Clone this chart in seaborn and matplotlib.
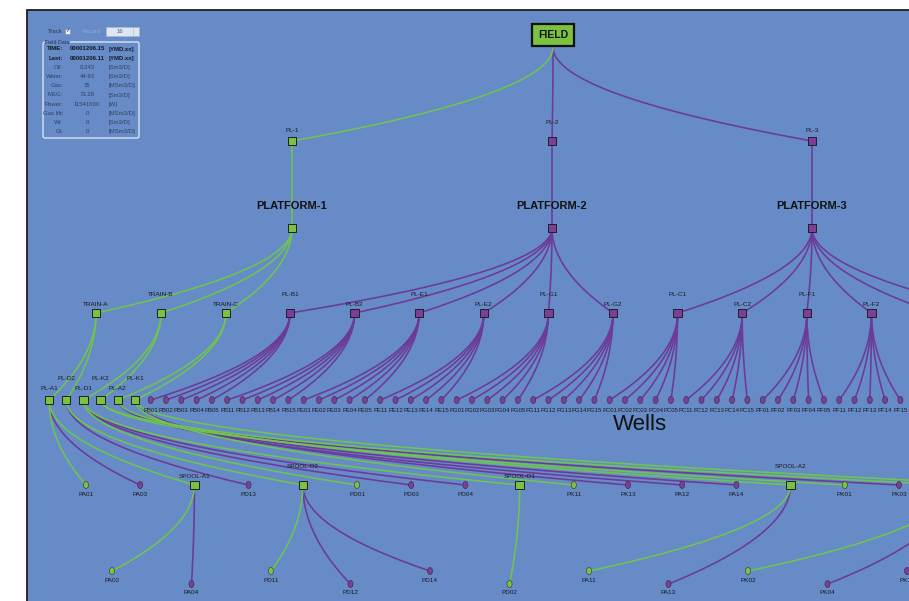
import warnings
import numpy as np
import pandas as pd
import matplotlib
matplotlib.use('Agg')
import matplotlib.pyplot as plt
import seaborn as sns
from matplotlib.patches import Rectangle, FancyBboxPatch
warnings.filterwarnings('ignore')

# ---- network content ----
FIELD = 'FIELD'
RISERS = ['PL-1', 'PL-2', 'PL-3']
RISER_PHASE = ['g', 'p', 'p']
PLATFORMS = ['PLATFORM-1', 'PLATFORM-2', 'PLATFORM-3']
TRAINS = ['TRAIN-A', 'TRAIN-B', 'TRAIN-C']

FLOWLINES = ['PL-B1', 'PL-B2', 'PL-E1', 'PL-E2', 'PL-G1', 'PL-G2',
             'PL-C1', 'PL-C2', 'PL-F1', 'PL-F2', 'PL-H1', 'PL-H2']
FLOWLINE_PLATFORM = ['PLATFORM-2'] * 6 + ['PLATFORM-3'] * 6

WELL_GROUPS = ['B', 'E', 'G', 'C', 'F']
WELL_SLOTS = ['01', '02', '03', '04', '05', '11', '12', '13', '14', '15']
WELLS = [f'P{g}{s}' for g in WELL_GROUPS for s in WELL_SLOTS]
WELL_FLOWLINE = [f'PL-{g}{1 if s[0] == "0" else 2}' for g in WELL_GROUPS for s in WELL_SLOTS]

MANIFOLDS = ['PL-A1', 'PL-D2', 'PL-D1', 'PL-K2', 'PL-A2', 'PL-K1']
MANIFOLD_TRAIN = ['TRAIN-A', 'TRAIN-A', 'TRAIN-B', 'TRAIN-B', 'TRAIN-C', 'TRAIN-C']

SUBSEA = ['PA01', 'PA03', 'SPOOL-A1', 'PD13', 'SPOOL-D2', 'PD01', 'PD03', 'PD04',
          'SPOOL-D1', 'PK11', 'PK13', 'PA12', 'PA14', 'SPOOL-A2', 'PK01', 'PK03',
          'SPOOL-K2', 'SPOOL-K1']
SUBSEA_MANIFOLD = ['PL-A1', 'PL-A1', 'PL-A1', 'PL-D2', 'PL-D2', 'PL-D1', 'PL-D1', 'PL-D1',
                   'PL-D1', 'PL-K1', 'PL-K1', 'PL-A2', 'PL-A2', 'PL-A2', 'PL-K2', 'PL-K2',
                   'PL-K2', 'PL-K1']
SUBSEA_PHASE = ['g', 'p', 'g', 'p', 'g', 'g', 'p', 'p',
                'g', 'g', 'p', 'p', 'p', 'g', 'g', 'p', 'g', 'g']

SPOOL_WELLS = ['PA02', 'PA04', 'PD11', 'PD12', 'PD14', 'PD02', 'PA11', 'PA13', 'PK02', 'PK04', 'PK12']
SPOOL_WELL_PARENT = ['SPOOL-A1', 'SPOOL-A1', 'SPOOL-D2', 'SPOOL-D2', 'SPOOL-D2', 'SPOOL-D1',
                     'SPOOL-A2', 'SPOOL-A2', 'SPOOL-K2', 'SPOOL-K2', 'SPOOL-K1']
SPOOL_WELL_PHASE = ['g', 'p', 'g', 'p', 'p', 'g', 'g', 'p', 'g', 'p', 'p']

PANEL_NAMES = ['TIME:', 'Last:', 'Oil:', 'Water:', 'Gas:', 'MEG:', 'Power:', 'Gas lift:', 'Wi:', 'Gi:']
PANEL_VALUES = ['00001206.15', '00001206.11', '0.243', '44.93', '35', '73.28', '11541600', '0', '0', '0']
PANEL_UNITS = ['[YMD.xx]', '[YMD.xx]', '[Sm3/D]', '[Sm3/D]', '[MSm3/D]', '[Sm3/D]', '[W]',
               '[MSm3/D]', '[Sm3/D]', '[MSm3/D]']
RECORD = '16'

# ---- style ----
BG = '#668bc7'
GREEN = '#7cc242'
PURPLE = '#7b3f9b'
GREEN_LINE = '#6fc451'
PURPLE_LINE = '#6c3a98'
SANS = ['Liberation Sans', 'DejaVu Sans']

# ---- layout (pixel space) ----
pos, label_dy = {}, {}
pos[FIELD] = (553, 35)
for i, n in enumerate(RISERS):
    pos[n] = (292 + 260 * i, 141)
    label_dy[n] = -19 if i == 1 else -10
for i, n in enumerate(PLATFORMS):
    pos[n] = (292 + 260 * i, 228)
for i, n in enumerate(TRAINS):
    pos[n] = (96 + 65 * i, 313)
    label_dy[n] = -19 if i == 1 else -9
for i, n in enumerate(FLOWLINES):
    pos[n] = (290 + 64.6 * i, 313)
    label_dy[n] = -19 if i % 2 == 0 else -9
for i, n in enumerate(WELLS):
    pos[n] = (150.7 + 15.3 * i, 400)
for i, n in enumerate(MANIFOLDS):
    pos[n] = (49 + 17.2 * i, 400)
    label_dy[n] = -11 if i % 2 == 0 else -21
k = 0
for i, n in enumerate(SUBSEA):
    pos[n] = (86 + 54.2 * i, 485)
    if n.startswith('SPOOL'):
        label_dy[n] = -9 if k % 2 == 0 else -18
        k += 1
    else:
        label_dy[n] = 9
for i, n in enumerate(SPOOL_WELLS):
    pos[n] = (112 + 79.5 * i, 571 if i % 2 == 0 else 584)
    label_dy[n] = 9

# ---- edges ----
edges = []
for n, ph in zip(RISERS, RISER_PHASE):
    edges.append(((553, 47), pos[n], ph))
for n, pl, ph in zip(RISERS, PLATFORMS, RISER_PHASE):
    edges.append((pos[n], pos[pl], ph))
for n in TRAINS:
    edges.append((pos['PLATFORM-1'], pos[n], 'g'))
for n, t in zip(MANIFOLDS, MANIFOLD_TRAIN):
    edges.append((pos[t], pos[n], 'g'))
for n, pl in zip(FLOWLINES, FLOWLINE_PLATFORM):
    edges.append((pos[pl], pos[n], 'p'))
for n, fl in zip(WELLS, WELL_FLOWLINE):
    edges.append((pos[fl], pos[n], 'p'))
for n, m, ph in zip(SUBSEA, SUBSEA_MANIFOLD, SUBSEA_PHASE):
    edges.append((pos[m], pos[n], ph))
for n, s, ph in zip(SPOOL_WELLS, SPOOL_WELL_PARENT, SPOOL_WELL_PHASE):
    edges.append((pos[s], pos[n], ph))


def curve(p0, p1, n=80):
    # quadratic bezier leaving the parent vertically
    t = np.linspace(0, 1, n)
    cx, cy = p0[0], (p0[1] + p1[1]) / 2
    x = (1 - t) ** 2 * p0[0] + 2 * (1 - t) * t * cx + t ** 2 * p1[0]
    y = (1 - t) ** 2 * p0[1] + 2 * (1 - t) * t * cy + t ** 2 * p1[1]
    return x, y


rows = []
for e, (a, b, ph) in enumerate(edges):
    x, y = curve(a, b)
    rows.append(pd.DataFrame({'edge': e, 'phase': ph, 'x': x, 'y': y}))
edge_df = pd.concat(rows, ignore_index=True)

# ---- nodes ----
squares = [(n, 'g') for n in RISERS[:1]] + [(n, 'p') for n in RISERS[1:]]
squares += [('PLATFORM-1', 'g'), ('PLATFORM-2', 'p'), ('PLATFORM-3', 'p')]
squares += [(n, 'g') for n in TRAINS] + [(n, 'p') for n in FLOWLINES]
squares += [(n, 'g') for n in MANIFOLDS]
squares += [(n, 'g') for n in SUBSEA if n.startswith('SPOOL')]
circles = [(n, 'p') for n in WELLS]
circles += [(n, ph) for n, ph in zip(SUBSEA, SUBSEA_PHASE) if not n.startswith('SPOOL')]
circles += list(zip(SPOOL_WELLS, SPOOL_WELL_PHASE))

sq_df = pd.DataFrame({'x': [pos[n][0] for n, _ in squares], 'y': [pos[n][1] for n, _ in squares],
                      'phase': [ph for _, ph in squares]})
ci_df = pd.DataFrame({'x': [pos[n][0] for n, _ in circles], 'y': [pos[n][1] for n, _ in circles],
                      'phase': [ph for _, ph in circles]})

# ---- draw ----
fig = plt.figure(figsize=(9.09, 6.01), dpi=100)
ax = fig.add_axes([0, 0, 1, 1])
ax.set_facecolor('white')
ax.add_patch(Rectangle((27, 10), 900, 600, fc=BG, ec='#1d1d24', lw=1.3, zorder=0))

sns.lineplot(data=edge_df[edge_df.phase == 'p'], x='x', y='y', units='edge', estimator=None,
             sort=False, color=PURPLE_LINE, linewidth=1.15, ax=ax, zorder=2)
sns.lineplot(data=edge_df[edge_df.phase == 'g'], x='x', y='y', units='edge', estimator=None,
             sort=False, color=GREEN_LINE, linewidth=1.15, ax=ax, zorder=3)

palette = {'g': GREEN, 'p': PURPLE}
sns.scatterplot(data=sq_df, x='x', y='y', hue='phase', palette=palette, marker='s', s=36,
                edgecolor='#202020', linewidth=0.7, legend=False, ax=ax, zorder=5)
th = np.linspace(0, 2 * np.pi, 40)
ellipse = np.c_[0.72 * np.cos(th), np.sin(th)]
sns.scatterplot(data=ci_df, x='x', y='y', hue='phase', palette=palette, marker=ellipse, s=26,
                edgecolor='#303030', linewidth=0.4, legend=False, ax=ax, zorder=5)

# labels
ax.text(*pos[FIELD], 'FIELD', ha='center', va='center', fontsize=7.5, fontweight='bold',
        family=SANS, color='#111', zorder=6,
        bbox=dict(boxstyle='square,pad=0.55', fc=GREEN, ec='#111', lw=1.6))
for n in PLATFORMS:
    ax.text(pos[n][0], 206, n, ha='center', va='center', fontsize=8, fontweight='bold',
            family=SANS, color='#111')
for n, dy in label_dy.items():
    x, y = pos[n]
    if x > 915:
        continue
    ax.text(x, y + dy, n, ha='center', va='center', fontsize=4.6, family=SANS,
            color='#1a1a1a', clip_on=True, zorder=6)
for n in WELLS:
    x, y = pos[n]
    ax.text(x, y + 10, n, ha='center', va='center', fontsize=4.3, family=SANS,
            color='#1a1a1a', clip_on=True, zorder=6)
ax.text(640, 425, 'Wells', ha='center', va='center', fontsize=16, family=SANS, color='#111')

# data panel
ax.text(48, 31.5, 'Track', fontsize=4.3, va='center', color='#2d3550', family=SANS)
ax.add_patch(Rectangle((65, 28.5), 5, 5, fc='#eef2f8', ec='#7f8fb0', lw=0.4))
ax.text(67.5, 31, '\u2713', fontsize=4, ha='center', va='center', color='#2d3550')
ax.text(82, 31.5, 'Record', fontsize=4.3, va='center', color='#93a9d6', family=SANS)
ax.add_patch(Rectangle((106, 27), 33, 9, fc='#dfe6f1', ec='#a9b6cd', lw=0.4))
ax.plot([133, 133], [27, 36], color='#a9b6cd', lw=0.4)
ax.text(120, 31.5, RECORD, fontsize=4.3, ha='center', va='center', color='#555c6e', family=SANS)
ax.add_patch(FancyBboxPatch((43, 42), 96, 96, boxstyle='round,pad=0,rounding_size=2',
                            fc='none', ec='#e8eef8', lw=0.9))
ax.text(45, 42, 'Field Data', fontsize=3.8, va='center', ha='left', color='#2d3550',
        family=SANS, bbox=dict(fc=BG, ec='none', pad=0.3))
for i, (nm, val, unit) in enumerate(zip(PANEL_NAMES, PANEL_VALUES, PANEL_UNITS)):
    y = 49 + 9.2 * i
    strong = i < 2
    col = '#15171f' if strong else '#34415f'
    w = 'bold' if strong else 'normal'
    kw = dict(fontsize=4.3, va='center', color=col, fontweight=w, family=SANS)
    ax.text(63, y, nm, ha='right', **kw)
    ax.text(87, y, val, ha='center', **kw)
    ax.text(109, y, unit, ha='left', **kw)

ax.set_xlim(0, 909)
ax.set_ylim(601, 0)
ax.axis('off')
fig.savefig('out.png', dpi=100, facecolor='white')
